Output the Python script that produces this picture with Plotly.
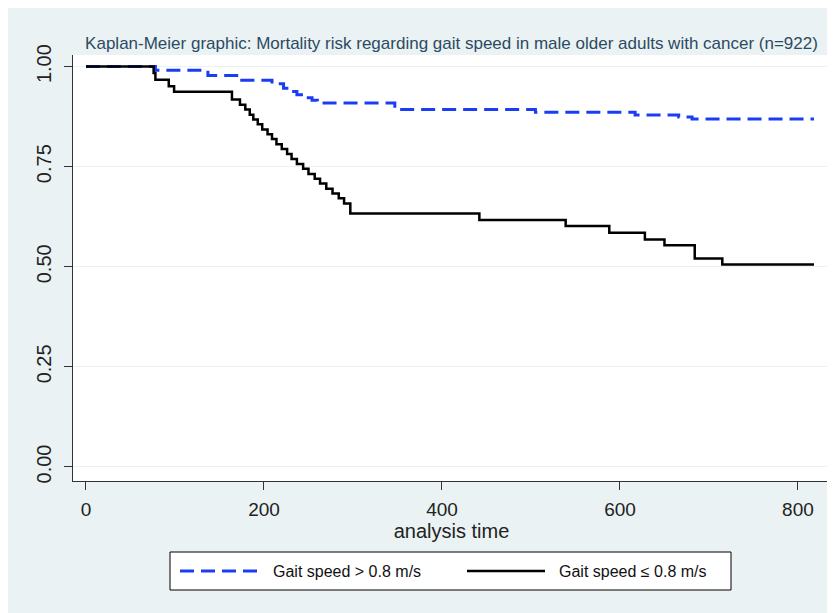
import plotly.graph_objects as go

# ---- data ----
time_fast = [0, 78, 137, 175, 209, 222, 230, 237, 248, 254, 260, 347, 505, 617, 666, 681, 818]
surv_fast = [1.000, 0.991, 0.978, 0.966, 0.957, 0.946, 0.938, 0.930, 0.922, 0.916, 0.909,
             0.893, 0.886, 0.879, 0.874, 0.869, 0.869]

time_slow = [0, 76, 78, 93, 99, 164, 173, 179, 184, 188, 193, 198, 204, 209, 214, 220, 226,
             231, 237, 244, 250, 257, 263, 270, 277, 284, 290, 297, 442, 539, 588, 628, 650,
             684, 715, 818]
surv_slow = [1.000, 0.984, 0.967, 0.951, 0.937, 0.918, 0.905, 0.893, 0.880, 0.868, 0.856,
             0.843, 0.831, 0.819, 0.806, 0.794, 0.782, 0.769, 0.757, 0.745, 0.732, 0.720,
             0.708, 0.695, 0.683, 0.671, 0.658, 0.633, 0.617, 0.602, 0.585, 0.568, 0.554,
             0.521, 0.506, 0.506]

series_names = ["Gait speed > 0.8 m/s", "Gait speed \u2264 0.8 m/s"]
x_ticks = [0, 200, 400, 600, 800]
y_ticks = [0, 0.25, 0.5, 0.75, 1.0]
y_tick_text = ["0.00", "0.25", "0.50", "0.75", "1.00"]
title_text = "Kaplan-Meier graphic: Mortality risk regarding gait speed in male older adults with cancer (n=922)"

BLUE = "#1a3cf5"
BG = "#eaf2f3"
FONT = "Liberation Sans"

# page body has an 8px margin; work in reference pixels and shift by it
OFF = 8
W, H = 835 - OFF, 613 - OFF
L, R, T, B = 73 - OFF, 830 - OFF, 55 - OFF, 481 - OFF
PW, PH = R - L, B - T

def px(xp):
    return (xp - OFF - L) / PW

def py(yp):
    return (B - (yp - OFF)) / PH

fig = go.Figure()
fig.add_trace(go.Scatter(x=time_fast, y=surv_fast, mode="lines", line_shape="hv",
                         name=series_names[0],
                         line=dict(color=BLUE, width=3, dash="14px,7px")))
fig.add_trace(go.Scatter(x=time_slow, y=surv_slow, mode="lines", line_shape="hv",
                         name=series_names[1],
                         line=dict(color="black", width=2.5)))

shapes = [
    # legend box
    dict(type="rect", xref="paper", yref="paper", x0=px(170), x1=px(731), y0=py(590), y1=py(552),
         fillcolor="white", line=dict(color="black", width=1)),
    dict(type="line", xref="paper", yref="paper", x0=px(180), x1=px(258), y0=py(571), y1=py(571),
         line=dict(color=BLUE, width=3, dash="14px,7px")),
    dict(type="line", xref="paper", yref="paper", x0=px(467), x1=px(545), y0=py(571), y1=py(571),
         line=dict(color="black", width=2.5)),
]
annotations = [
    dict(xref="paper", yref="paper", x=px(271), y=py(571), text=series_names[0], showarrow=False,
         xanchor="left", yanchor="middle", font=dict(family=FONT, size=16, color="#111")),
    dict(xref="paper", yref="paper", x=px(557), y=py(571), text=series_names[1], showarrow=False,
         xanchor="left", yanchor="middle", font=dict(family=FONT, size=16, color="#111")),
]

fig.update_layout(
    width=W, height=H,
    margin=dict(l=L, r=W - R, t=T, b=H - B, pad=0),
    paper_bgcolor=BG, plot_bgcolor="white",
    showlegend=False,
    font=dict(family=FONT, color="#222"),
    title=dict(text=title_text, xref="paper", x=0.5, xanchor="center",
               yref="container", y=1 - (43 - OFF) / H, yanchor="middle",
               font=dict(family=FONT, size=17, color="#2c4a63")),
    shapes=shapes, annotations=annotations,
    xaxis=dict(range=[-14.6, 836], tickvals=x_ticks, showgrid=False, zeroline=False,
               showline=True, linecolor="#333", linewidth=1, ticks="outside", ticklen=8,
               tickcolor="#333", tickfont=dict(size=19, color="#222"), ticklabelstandoff=3,
               title=dict(text="analysis time", font=dict(size=20, color="#222"), standoff=1)),
    yaxis=dict(range=[-0.035, 1.029], tickvals=y_ticks, ticktext=y_tick_text, tickangle=-90,
               showgrid=True, gridcolor=BG, gridwidth=1, zeroline=False,
               showline=True, linecolor="#333", linewidth=1, ticks="outside", ticklen=8,
               tickcolor="#333", tickfont=dict(size=20, color="#222"), ticklabelstandoff=5),
)

fig.write_html("out.html")
